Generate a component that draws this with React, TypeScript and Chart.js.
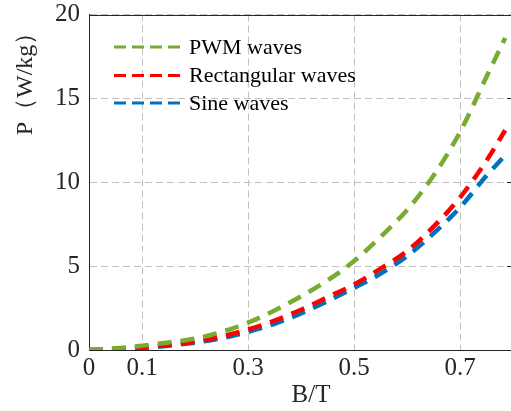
import React, { useEffect, useRef } from "react";
import { Chart, registerables } from "chart.js";

Chart.register(...registerables);

const bValues = [0, 0.05, 0.1, 0.15, 0.2, 0.25, 0.3, 0.35, 0.4, 0.45, 0.5, 0.55, 0.6, 0.65, 0.7, 0.75, 0.785];
const pwmValues = [0, 0.1, 0.26, 0.45, 0.68, 1.08, 1.63, 2.35, 3.2, 4.15, 5.3, 6.75, 8.35, 10.4, 13.0, 16.3, 18.6];
const rectValues = [0, 0.06, 0.15, 0.3, 0.5, 0.8, 1.22, 1.75, 2.4, 3.15, 3.9, 4.85, 5.9, 7.35, 9.1, 11.3, 13.1];
const sineValues = [0, 0.05, 0.12, 0.26, 0.44, 0.7, 1.08, 1.56, 2.18, 2.92, 3.7, 4.55, 5.6, 6.95, 8.5, 10.4, 11.6];
const xTicks = [0, 0.1, 0.3, 0.5, 0.7];
const yTicks = [0, 5, 10, 15, 20];
const seriesNames = ["PWM waves", "Rectangular waves", "Sine waves"];
const seriesColors = ["#77AC30", "#FF0000", "#0072BD"];
const xTitle = "B/T";
const yTitle = "P（W/kg）";

const FONT = "'Liberation Serif', 'Times New Roman', serif";

export default function App() {
  const ref = useRef<HTMLCanvasElement>(null);
  useEffect(() => {
    document.body.style.margin = "0";
    const canvas = ref.current;
    if (!canvas) return;
    const series = [pwmValues, rectValues, sineValues];
    const decor = {
      id: "decor",
      beforeDatasetsDraw(chart: any) {
        const { ctx, chartArea } = chart;
        ctx.save();
        ctx.fillStyle = "#ffffff";
        ctx.fillRect(Math.floor(chartArea.right) - 2, chartArea.top + 1, 4, chartArea.bottom - chartArea.top - 2);
        ctx.restore();
      },
      afterDraw(chart: any) {
        const { ctx, chartArea } = chart;
        const yScale = chart.scales.y;
        ctx.save();
        ctx.strokeStyle = "#262626";
        ctx.lineWidth = 1;
        ctx.beginPath();
        ctx.moveTo(chartArea.left, Math.round(chartArea.top) + 0.5);
        ctx.lineTo(chartArea.right, Math.round(chartArea.top) + 0.5);
        ctx.stroke();
        yTicks.forEach((v) => {
          const y = Math.round(yScale.getPixelForValue(v)) + 0.5;
          ctx.beginPath();
          ctx.moveTo(chartArea.right - 4, y);
          ctx.lineTo(chartArea.right, y);
          ctx.stroke();
        });
        ctx.font = `22px ${FONT}`;
        ctx.textBaseline = "middle";
        ctx.textAlign = "left";
        const ys = [47, 75.5, 103];
        seriesNames.forEach((name, i) => {
          ctx.strokeStyle = seriesColors[i];
          ctx.lineWidth = 3;
          ctx.setLineDash([12, 6]);
          ctx.beginPath();
          ctx.moveTo(114, ys[i]);
          ctx.lineTo(180, ys[i]);
          ctx.stroke();
          ctx.setLineDash([]);
          ctx.fillStyle = "#000";
          ctx.fillText(name, 189, ys[i] + 1);
        });
        ctx.fillStyle = "#262626";
        ctx.font = `25px ${FONT}`;
        ctx.textAlign = "center";
        ctx.fillText(xTitle, 311, 395);
        ctx.save();
        ctx.translate(26, 78);
        ctx.rotate(-Math.PI / 2);
        ctx.font = `24px ${FONT}`;
        ctx.fillText(yTitle, 0, 0);
        ctx.restore();
        ctx.restore();
      },
    };
    const chart = new Chart(canvas, {
      type: "line",
      data: {
        datasets: series.map((vals, i) => ({
          label: seriesNames[i],
          data: bValues.map((b, j) => ({ x: b, y: vals[j] })),
          borderColor: seriesColors[i],
          backgroundColor: seriesColors[i],
          borderWidth: 4.5,
          borderDash: [14, 9],
          pointRadius: 0,
          tension: 0.4,
          cubicInterpolationMode: "monotone",
          fill: false,
        })),
      },
      options: {
        animation: false,
        responsive: false,
        layout: { padding: { top: 14.5, right: 0, left: 0, bottom: 0 } },
        plugins: { legend: { display: false }, tooltip: { enabled: false } },
        scales: {
          x: {
            type: "linear",
            min: 0,
            max: 0.796,
            afterBuildTicks: (scale: any) => {
              scale.ticks = xTicks.map((v) => ({ value: v }));
            },
            afterFit: (scale: any) => {
              scale.height = 61;
              scale.paddingLeft = 0;
              scale.paddingRight = 0;
            },
            ticks: {
              color: "#262626",
              font: { family: FONT, size: 25 },
              padding: 3,
              maxRotation: 0,
              autoSkip: false,
              callback: (v: any) => String(v),
            },
            grid: { color: "#c0c0c0", lineWidth: 1, drawTicks: false },
            border: { display: true, color: "#262626", width: 1, dash: [7, 4] },
          },
          y: {
            type: "linear",
            min: 0,
            max: 20,
            afterBuildTicks: (scale: any) => {
              scale.ticks = yTicks.map((v) => ({ value: v }));
            },
            afterFit: (scale: any) => {
              scale.width = 89;
              scale.paddingTop = 0;
              scale.paddingBottom = 0;
            },
            ticks: {
              color: "#262626",
              font: { family: FONT, size: 25 },
              padding: 9,
              autoSkip: false,
            },
            grid: { color: "#c0c0c0", lineWidth: 1, drawTicks: false },
            border: { display: true, color: "#262626", width: 1, dash: [7, 4] },
          },
        },
      },
      plugins: [decor],
    } as any);
    return () => chart.destroy();
  }, []);
  return <canvas ref={ref} width={511} height={411} style={{ display: "block" }} />;
}
